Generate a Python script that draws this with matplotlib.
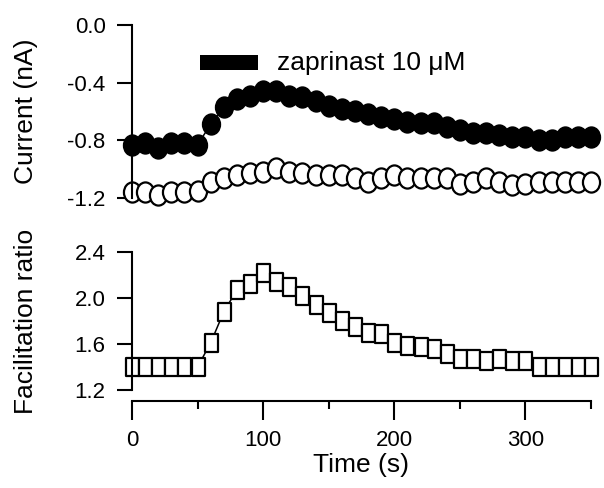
import matplotlib
matplotlib.use("Agg")
import matplotlib.pyplot as plt
from matplotlib.path import Path
from matplotlib.transforms import Affine2D
from matplotlib.patches import Rectangle
from matplotlib.ticker import FormatStrFormatter, MultipleLocator

plt.rcParams['font.family'] = ['Liberation Sans', 'DejaVu Sans']
plt.rcParams['axes.unicode_minus'] = False

# time points (s)
time = [0, 10, 20, 30, 40, 50, 60, 70, 80, 90, 100, 110, 120, 130, 140, 150, 160, 170,
        180, 190, 200, 210, 220, 230, 240, 250, 260, 270, 280, 290, 300, 310, 320, 330,
        340, 350]

# current, filled circles (nA)
current_filled = [-0.83, -0.82, -0.85, -0.82, -0.82, -0.83, -0.69, -0.57, -0.51, -0.49,
                  -0.46, -0.46, -0.49, -0.50, -0.53, -0.56, -0.58, -0.60, -0.62, -0.64,
                  -0.65, -0.67, -0.68, -0.68, -0.71, -0.73, -0.75, -0.75, -0.76, -0.78,
                  -0.78, -0.80, -0.80, -0.78, -0.78, -0.78]

# current, open circles (nA)
current_open = [-1.16, -1.16, -1.18, -1.16, -1.16, -1.15, -1.09, -1.06, -1.04, -1.03,
                -1.02, -0.99, -1.02, -1.03, -1.04, -1.04, -1.04, -1.06, -1.09, -1.06,
                -1.04, -1.06, -1.06, -1.06, -1.06, -1.10, -1.09, -1.06, -1.09, -1.11,
                -1.10, -1.09, -1.09, -1.09, -1.09, -1.09]

# facilitation ratio, open squares
ratio = [1.40, 1.40, 1.40, 1.40, 1.40, 1.40, 1.61, 1.88, 2.07, 2.12, 2.22, 2.14, 2.10,
         2.02, 1.94, 1.87, 1.80, 1.75, 1.70, 1.69, 1.61, 1.58, 1.57, 1.56, 1.51, 1.47,
         1.47, 1.45, 1.47, 1.45, 1.45, 1.40, 1.40, 1.40, 1.40, 1.40]

# markers are a bit taller than wide in the reference
ell = Path.unit_circle().transformed(Affine2D().scale(0.85, 1.0))
rect = Path([(-0.36, -0.5), (0.36, -0.5), (0.36, 0.5), (-0.36, 0.5), (-0.36, -0.5)],
            [Path.MOVETO, Path.LINETO, Path.LINETO, Path.LINETO, Path.CLOSEPOLY])

fig = plt.figure(figsize=(6.04, 4.88), dpi=100)
ax1 = fig.add_axes([0.2185, 0.5943, 0.760, 0.3545])
ax2 = fig.add_axes([0.2185, 0.2008, 0.760, 0.2828])

lw = 1.5
for ax in (ax1, ax2):
    ax.spines['top'].set_visible(False)
    ax.spines['right'].set_visible(False)
    ax.spines['left'].set_linewidth(lw)
    ax.spines['bottom'].set_linewidth(lw)
    ax.set_xlim(0, 350)
    ax.tick_params(axis='y', direction='out', length=11, width=lw, pad=8, labelsize=16)
    ax.yaxis.set_major_formatter(FormatStrFormatter('%.1f'))

ax1.plot(time, current_open, '-', color='black', lw=1.1, marker=ell, markersize=14.5,
         markerfacecolor='white', markeredgecolor='black', markeredgewidth=1.6, clip_on=False)
ax1.plot(time, current_filled, '-', color='black', lw=1.1, marker=ell, markersize=14.5,
         markerfacecolor='black', markeredgecolor='black', markeredgewidth=1.6, clip_on=False)
ax1.set_ylim(-1.2, 0.0)
ax1.set_yticks([0.0, -0.4, -0.8, -1.2])
ax1.spines['bottom'].set_visible(False)
ax1.set_xticks([])
ax1.set_ylabel('Current (nA)', fontsize=19, va='center')
ax1.yaxis.set_label_coords(-0.231, 0.5)

# drug application bar
ax1.add_patch(Rectangle((0.148, 0.74), 0.126, 0.085, transform=ax1.transAxes,
                        facecolor='black', edgecolor='none', clip_on=False))
ax1.text(0.316, 0.782, 'zaprinast 10 μM', transform=ax1.transAxes, fontsize=19,
         ha='left', va='center')

ax2.plot(time, ratio, '-', color='black', lw=1.1, marker=rect, markersize=13,
         markerfacecolor='white', markeredgecolor='black', markeredgewidth=1.6, clip_on=False)
ax2.set_ylim(1.2, 2.4)
ax2.set_yticks([1.2, 1.6, 2.0, 2.4])
ax2.spines['bottom'].set_position(('outward', 8))
ax2.set_xticks([0, 100, 200, 300])
ax2.xaxis.set_minor_locator(MultipleLocator(50))
ax2.tick_params(axis='x', which='major', direction='out', length=14, width=lw, pad=7,
                labelsize=16)
ax2.tick_params(axis='x', which='minor', direction='out', length=6, width=lw)
ax2.set_xlabel('Time (s)', fontsize=19, labelpad=1)
ax2.set_ylabel('Facilitation ratio', fontsize=19, va='center')
ax2.yaxis.set_label_coords(-0.231, 0.5)

fig.savefig('out.png', dpi=100, facecolor='white')
